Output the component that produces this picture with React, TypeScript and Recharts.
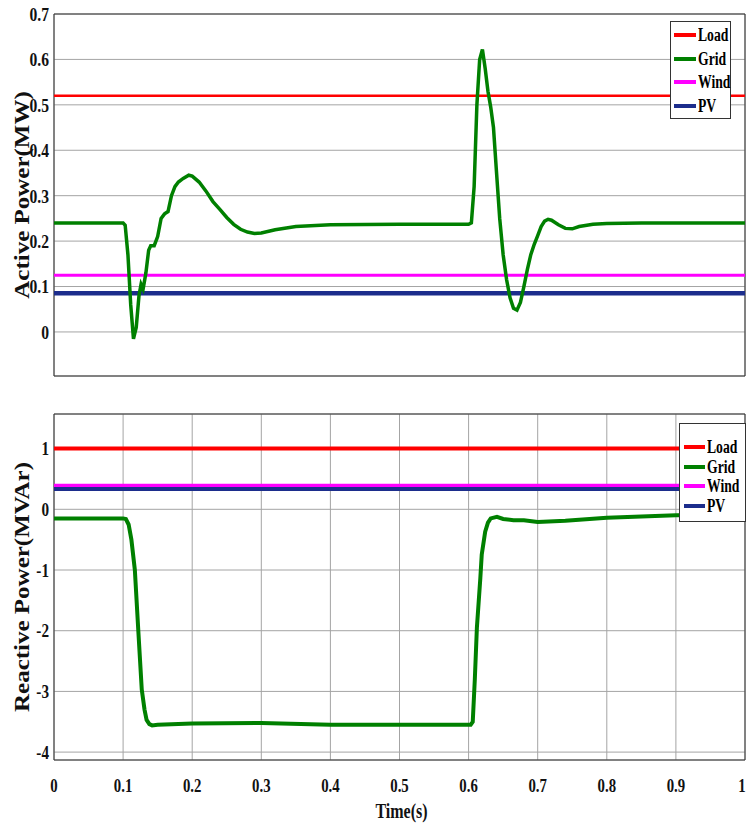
import React from 'react';
import { LineChart, Line, XAxis, YAxis, CartesianGrid, ReferenceArea, Legend } from 'recharts';

// ---------- data ----------
const TIME_P = [0, 0.1, 0.103, 0.107, 0.111, 0.115, 0.119, 0.123, 0.126, 0.129, 0.133, 0.137, 0.14, 0.145, 0.15, 0.155, 0.16, 0.165, 0.17, 0.175, 0.18, 0.187, 0.195, 0.2, 0.21, 0.22, 0.23, 0.24, 0.25, 0.26, 0.27, 0.28, 0.29, 0.3, 0.32, 0.35, 0.4, 0.5, 0.6, 0.604, 0.608, 0.612, 0.616, 0.62, 0.624, 0.628, 0.632, 0.636, 0.64, 0.645, 0.65, 0.655, 0.66, 0.665, 0.67, 0.675, 0.68, 0.685, 0.69, 0.695, 0.7, 0.705, 0.71, 0.715, 0.72, 0.73, 0.74, 0.75, 0.76, 0.78, 0.8, 0.85, 0.9, 1.0];
const GRID_P = [0.24, 0.24, 0.235, 0.17, 0.06, -0.015, 0.01, 0.08, 0.105, 0.095, 0.13, 0.18, 0.19, 0.19, 0.21, 0.25, 0.26, 0.265, 0.3, 0.32, 0.33, 0.338, 0.345, 0.343, 0.33, 0.31, 0.287, 0.27, 0.252, 0.237, 0.226, 0.22, 0.217, 0.218, 0.225, 0.232, 0.236, 0.237, 0.237, 0.24, 0.32, 0.5, 0.6, 0.622, 0.58, 0.53, 0.495, 0.45, 0.36, 0.25, 0.17, 0.115, 0.075, 0.052, 0.048, 0.065, 0.1, 0.137, 0.17, 0.193, 0.212, 0.232, 0.244, 0.248, 0.246, 0.236, 0.228, 0.227, 0.232, 0.237, 0.239, 0.24, 0.24, 0.24];
const LOAD_P = 0.52;
const WIND_P = 0.125;
const PV_P = 0.085;

const TIME_Q = [0, 0.1, 0.104, 0.108, 0.112, 0.117, 0.122, 0.127, 0.131, 0.134, 0.138, 0.142, 0.15, 0.2, 0.3, 0.4, 0.5, 0.603, 0.606, 0.609, 0.612, 0.617, 0.619, 0.624, 0.628, 0.632, 0.641, 0.65, 0.665, 0.68, 0.7, 0.74, 0.8, 0.9, 1.0];
const GRID_Q = [-0.15, -0.15, -0.16, -0.25, -0.5, -1.0, -2.0, -2.97, -3.3, -3.47, -3.54, -3.56, -3.55, -3.53, -3.52, -3.55, -3.55, -3.55, -3.5, -2.8, -1.95, -1.13, -0.75, -0.37, -0.22, -0.15, -0.125, -0.16, -0.18, -0.18, -0.21, -0.19, -0.14, -0.1, -0.09];
const LOAD_Q = 1.0;
const WIND_Q = 0.39;
const PV_Q = 0.335;

const X_TICKS = [0, 0.1, 0.2, 0.3, 0.4, 0.5, 0.6, 0.7, 0.8, 0.9, 1];
const P_TICKS = [0, 0.1, 0.2, 0.3, 0.4, 0.5, 0.6, 0.7];
const Q_TICKS = [-4, -3, -2, -1, 0, 1];
const P_DOMAIN = [-0.097, 0.7];
const Q_DOMAIN = [-4.13, 1.57];

const SERIES_NAMES = ['Load', 'Grid', 'Wind', 'PV'];
const SERIES_COLORS = ['#ff0000', '#008000', '#ff00ff', '#1c2d8c'];

// ---------- helpers ----------
const FONT = "'Liberation Serif', 'Times New Roman', serif";

const pairs = (ts: number[], vs: number[]) => ts.map((t, i) => ({ t, v: vs[i] }));
const flat = (v: number) => [{ t: 0, v }, { t: 1, v }];

const makeTick = (fs: number) => (props: any) => {
  const { x, y, payload, textAnchor, verticalAnchor } = props;
  const dy = verticalAnchor === 'start' ? '0.71em' : '0.355em';
  return (
    <text
      x={0}
      y={0}
      dy={dy}
      textAnchor={textAnchor}
      transform={`translate(${x},${y}) scale(0.8,1)`}
      fontFamily={FONT}
      fontWeight={700}
      fontSize={fs}
      fill="#111"
    >
      {String(payload.value)}
    </text>
  );
};

const YLabel = (props: any) => {
  const { viewBox, text } = props;
  const cy = viewBox.y + viewBox.height / 2;
  return (
    <text
      x={0}
      y={0}
      textAnchor="middle"
      dominantBaseline="central"
      transform={`translate(22,${cy}) scale(0.8,1) rotate(-90)`}
      fontFamily={FONT}
      fontWeight={700}
      fontSize={25}
      fill="#111"
    >
      {text}
    </text>
  );
};

const XLabel = (props: any) => {
  const { viewBox } = props;
  const cx = viewBox.x + viewBox.width / 2 + 2;
  return (
    <text
      x={0}
      y={0}
      textAnchor="middle"
      transform={`translate(${cx},${viewBox.y + 58}) scale(0.8,1)`}
      fontFamily={FONT}
      fontWeight={700}
      fontSize={20}
      fill="#111"
    >
      Time(s)
    </text>
  );
};

const makeLegend = (rows: number[], sampleX: number, sampleW: number, textX: number, w: number, h: number) => () => (
  <div
    style={{
      position: 'relative',
      width: w,
      height: h,
      border: '1px solid #333',
      background: '#fff',
      boxSizing: 'border-box',
    }}
  >
    {SERIES_NAMES.map((n, i) => (
      <div key={n} style={{ position: 'absolute', left: 0, top: rows[i] - 11, height: 20, width: '100%' }}>
        <div
          style={{
            position: 'absolute',
            left: sampleX,
            top: 8,
            width: sampleW,
            height: 4,
            background: SERIES_COLORS[i],
          }}
        />
        <div
          style={{
            position: 'absolute',
            left: textX,
            top: 0,
            lineHeight: '20px',
            fontFamily: FONT,
            fontWeight: 700,
            fontSize: 18,
            transform: 'scaleX(0.76)',
            transformOrigin: 'left center',
            whiteSpace: 'nowrap',
            color: '#000',
          }}
        >
          {n}
        </div>
      </div>
    ))}
  </div>
);

const GRID_STROKE = '#a4a4a4';

export default function App() {
  const gridP = pairs(TIME_P, GRID_P);
  const gridQ = pairs(TIME_Q, GRID_Q);
  return (
    <div style={{ position: 'absolute', left: 0, top: 0, width: 746, height: 825, background: '#fff' }}>
      <div style={{ position: 'absolute', left: 0, top: 0 }}>
        <LineChart width={746} height={380} margin={{ top: 14, right: 1, bottom: 4, left: 0 }}>
          <CartesianGrid stroke={GRID_STROKE} strokeWidth={1} />
          <XAxis
            dataKey="t"
            type="number"
            domain={[0, 1]}
            ticks={X_TICKS}
            tick={false}
            axisLine={false}
            tickLine={false}
            height={0}
            allowDataOverflow
          />
          <YAxis
            type="number"
            domain={P_DOMAIN}
            ticks={P_TICKS}
            width={54}
            tickSize={0}
            tickMargin={5}
            axisLine={false}
            tickLine={false}
            tick={makeTick(19.5)}
            allowDataOverflow
            label={<YLabel text="Active Power(MW)" />}
          />
          <ReferenceArea x1={0} x2={1} y1={P_DOMAIN[0]} y2={P_DOMAIN[1]} fill="none" stroke="#333" strokeWidth={1} ifOverflow="visible" />
          <Line data={flat(LOAD_P)} dataKey="v" name="Load" stroke={SERIES_COLORS[0]} strokeWidth={2.5} dot={false} isAnimationActive={false} />
          <Line data={flat(WIND_P)} dataKey="v" name="Wind" stroke={SERIES_COLORS[2]} strokeWidth={3} dot={false} isAnimationActive={false} />
          <Line data={flat(PV_P)} dataKey="v" name="PV" stroke={SERIES_COLORS[3]} strokeWidth={4.5} dot={false} isAnimationActive={false} />
          <Line data={gridP} dataKey="v" name="Grid" stroke={SERIES_COLORS[1]} strokeWidth={3.5} dot={false} isAnimationActive={false} />
          <Legend
            layout="vertical"
            align="center"
            verticalAlign="middle"
            wrapperStyle={{ left: 670, top: 21, width: 61, height: 98 }}
            content={makeLegend([14, 38, 61, 85], 3, 22, 27, 61, 98)}
          />
        </LineChart>
      </div>
      <div style={{ position: 'absolute', left: 0, top: 390 }}>
        <LineChart width={746} height={435} margin={{ top: 24, right: 1, bottom: 5, left: 0 }}>
          <CartesianGrid stroke={GRID_STROKE} strokeWidth={1} />
          <XAxis
            dataKey="t"
            type="number"
            domain={[0, 1]}
            ticks={X_TICKS}
            height={60}
            tickSize={0}
            tickMargin={19}
            axisLine={false}
            tickLine={false}
            tick={makeTick(18.5)}
            allowDataOverflow
            label={<XLabel />}
          />
          <YAxis
            type="number"
            domain={Q_DOMAIN}
            ticks={Q_TICKS}
            width={54}
            tickSize={0}
            tickMargin={5}
            axisLine={false}
            tickLine={false}
            tick={makeTick(19)}
            allowDataOverflow
            label={<YLabel text="Reactive Power(MVAr)" />}
          />
          <ReferenceArea x1={0} x2={1} y1={Q_DOMAIN[0]} y2={Q_DOMAIN[1]} fill="none" stroke="#333" strokeWidth={1} ifOverflow="visible" />
          <Line data={flat(LOAD_Q)} dataKey="v" name="Load" stroke={SERIES_COLORS[0]} strokeWidth={4} dot={false} isAnimationActive={false} />
          <Line data={flat(WIND_Q)} dataKey="v" name="Wind" stroke={SERIES_COLORS[2]} strokeWidth={4} dot={false} isAnimationActive={false} />
          <Line data={flat(PV_Q)} dataKey="v" name="PV" stroke={SERIES_COLORS[3]} strokeWidth={4} dot={false} isAnimationActive={false} />
          <Line data={gridQ} dataKey="v" name="Grid" stroke={SERIES_COLORS[1]} strokeWidth={4} dot={false} isAnimationActive={false} />
          <Legend
            layout="vertical"
            align="center"
            verticalAlign="middle"
            wrapperStyle={{ left: 679, top: 33, width: 67, height: 99 }}
            content={makeLegend([24, 44, 63, 83], 4, 21, 27, 67, 99)}
          />
        </LineChart>
      </div>
    </div>
  );
}
